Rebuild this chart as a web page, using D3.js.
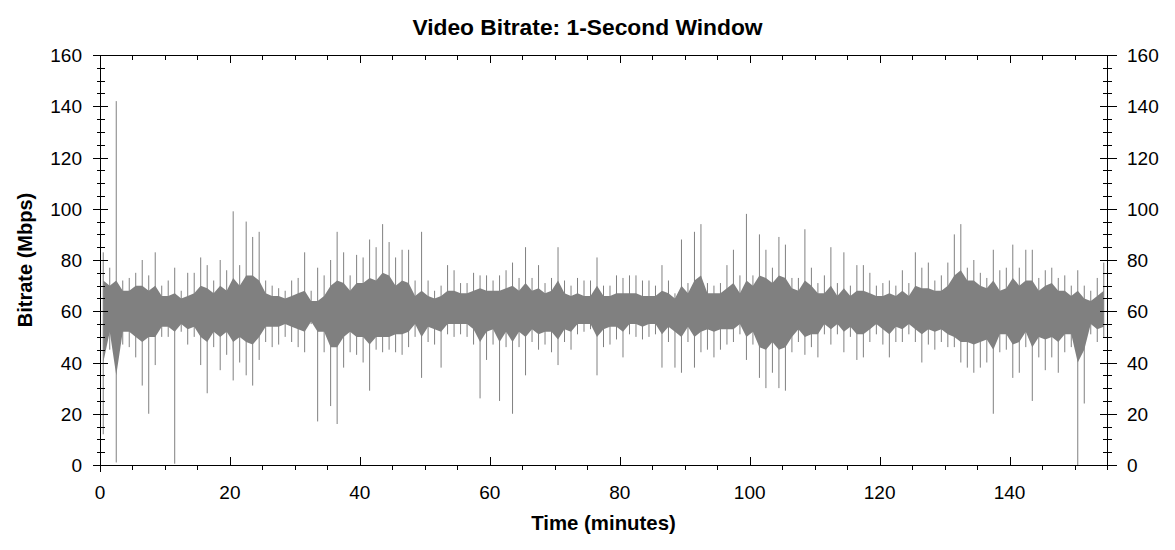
<!DOCTYPE html>
<html><head><meta charset="utf-8">
<script src="https://cdn.jsdelivr.net/npm/d3@7/dist/d3.min.js"></script>
<style>body{margin:0;background:#fff}svg{display:block}</style>
</head><body><svg id="c" width="1175" height="550"></svg>
<script>
// Per-minute extreme values (max / min of the 1-second bitrate within each minute), Mbps
const minuteHi = [
 83,77,142,72,73,75,80,74,83,70,
 72,77,68,75,75,81,78,72,80,76,
 99,78,95,89,91,72,70,69,68,72,
 73,83,68,77,74,80,91,83,74,82,
 81,88,85,94,87,81,84,84,72,91,
 72,68,70,78,76,71,71,75,74,74,
 72,74,76,79,73,85,73,78,71,73,
 85,72,70,73,72,72,81,70,70,74,
 73,74,74,72,72,70,78,72,67,88,
 71,91,94,71,70,71,78,84,74,98,
 74,90,84,77,89,86,73,73,92,77,
 71,74,85,71,83,70,78,78,75,70,
 71,72,70,76,71,83,77,79,72,74,
 79,90,94,77,80,75,73,84,76,77,
 86,77,84,84,73,76,77,73,74,70,
 76,70,68,73,79];
const minuteLo = [
 12,45,1,47,46,42,31,20,39,50,
 50,0.5,52,47,50,39,28,46,37,43,
 33,40,35,31,41,48,46,47,50,48,
 46,44,55,17,44,23,16,38,44,43,
 40,29,45,44,45,44,43,46,50,34,
 48,47,38,51,50,51,50,47,26,41,
 47,25,46,20,46,35,48,45,47,44,
 39,48,45,51,52,53,35,46,47,49,
 42,51,50,49,50,51,38,48,38,36,
 48,38,44,45,42,45,47,48,51,41,
 47,34,30,36,30,29,44,48,43,46,
 42,51,47,51,44,50,41,42,48,51,
 47,42,48,48,51,48,40,47,45,48,
 46,46,40,38,36,38,40,20,44,45,
 34,36,46,25,42,37,42,36,44,46,
 0,24,51,48,50];
// Per-minute dense band of the trace (where most 1-second samples fall), Mbps
const innerHi = [
 72,70,72,68,68,70,70,68,70,66,
 66,67,65,66,67,70,69,67,70,68,
 73,70,74,74,72,67,66,66,65,66,
 67,68,64,64,66,70,72,71,68,71,
 71,73,72,75,74,70,72,71,66,68,
 66,65,66,68,68,67,67,68,69,68,
 68,68,69,70,68,71,68,69,67,68,
 72,67,66,67,66,66,70,66,66,67,
 67,67,67,66,66,66,68,67,65,70,
 67,72,74,67,67,67,69,71,67,72,
 70,74,73,71,74,73,69,68,72,70,
 67,67,70,66,69,66,68,68,67,66,
 66,67,66,68,66,70,69,69,68,68,
 70,74,76,72,72,70,69,72,68,69,
 73,70,72,72,68,70,71,68,68,66,
 68,65,64,66,68];
const innerLo = [
 40,52,35,52,52,50,48,50,50,54,
 54,52,55,53,54,50,48,52,50,52,
 48,50,48,47,50,54,54,54,55,54,
 53,52,56,52,52,46,46,50,52,50,
 50,47,50,50,50,51,51,52,55,50,
 54,53,52,55,55,55,55,53,48,52,
 53,48,52,48,52,50,53,51,52,52,
 49,53,52,55,55,55,50,53,54,54,
 52,55,55,54,55,55,51,54,52,50,
 54,50,52,53,52,53,53,53,55,50,
 52,46,45,48,45,46,50,53,50,51,
 51,55,53,55,52,54,51,51,53,55,
 53,51,54,53,55,53,51,53,52,53,
 51,50,48,48,47,48,49,45,51,51,
 47,48,52,46,50,49,50,48,51,51,
 40,45,55,53,54];
// Axis ticks
const xMajor = [0,20,40,60,80,100,120,140];
const yMajor = [0,20,40,60,80,100,120,140,160];
const xMinor = [5,10,15,25,30,35,45,50,55,65,70,75,85,90,95,105,110,115,125,130,135,145,150,155];
const yMinor = [5,10,15,25,30,35,45,50,55,65,70,75,85,90,95,105,110,115,125,130,135,145,150,155];

const svg = d3.select('#c');
const FONT = '"Liberation Sans", Arial, Helvetica, sans-serif';
const L = 100, R = 1107, T = 55, B = 465;
const x = d3.scaleLinear().domain([0,155]).range([L,R]);
const y = d3.scaleLinear().domain([0,160]).range([B,T]);
const GRAY = '#808080';

const mins = minuteHi.map((h,i)=>({t:i+0.5, hi:h, lo:minuteLo[i], ih:innerHi[i], il:innerLo[i]}));

// dense band
svg.append('path').datum(mins)
  .attr('d', d3.area().x(d=>x(d.t)).y0(d=>y(d.il)).y1(d=>y(d.ih)))
  .attr('fill', GRAY);

// per-minute extremes
svg.append('g').selectAll('line').data(mins).join('line')
  .attr('x1', d=>x(d.t)).attr('x2', d=>x(d.t))
  .attr('y1', d=>y(d.lo)).attr('y2', d=>y(d.hi))
  .attr('stroke', GRAY).attr('stroke-width', 1);

// axes frame
const ax = svg.append('g').attr('stroke','#000').attr('stroke-width',1).attr('shape-rendering','crispEdges');
const px = v => Math.round(v)+0.5;
ax.append('line').attr('x1',93).attr('x2',1113).attr('y1',px(B)).attr('y2',px(B));
ax.append('line').attr('x1',93).attr('x2',1113).attr('y1',px(T)).attr('y2',px(T));
ax.append('line').attr('x1',px(L)).attr('x2',px(L)).attr('y1',T).attr('y2',B+7);
ax.append('line').attr('x1',px(R)).attr('x2',px(R)).attr('y1',T).attr('y2',B);

xMajor.forEach(v=>{
  ax.append('line').attr('x1',px(x(v))).attr('x2',px(x(v))).attr('y1',B-8).attr('y2',B);
  ax.append('line').attr('x1',px(x(v))).attr('x2',px(x(v))).attr('y1',T).attr('y2',T+8);
});
xMinor.forEach(v=>{
  ax.append('line').attr('x1',px(x(v))).attr('x2',px(x(v))).attr('y1',B).attr('y2',B+5);
  ax.append('line').attr('x1',px(x(v))).attr('x2',px(x(v))).attr('y1',T).attr('y2',T+5);
});
yMajor.forEach(v=>{
  ax.append('line').attr('x1',L-7).attr('x2',L+8).attr('y1',px(y(v))).attr('y2',px(y(v)));
  ax.append('line').attr('x1',R-7).attr('x2',R+10).attr('y1',px(y(v))).attr('y2',px(y(v)));
});
yMinor.forEach(v=>{
  ax.append('line').attr('x1',L-3).attr('x2',L+5).attr('y1',px(y(v))).attr('y2',px(y(v)));
  ax.append('line').attr('x1',R-4).attr('x2',R+5).attr('y1',px(y(v))).attr('y2',px(y(v)));
});

// tick labels
const lab = svg.append('g').attr('font-family',FONT).attr('font-size',19).attr('fill','#000');
xMajor.forEach(v=>{
  lab.append('text').attr('x',x(v)).attr('y',499).attr('text-anchor','middle').text(v);
});
yMajor.forEach(v=>{
  lab.append('text').attr('x',82).attr('y',y(v)+7).attr('text-anchor','end').text(v);
  lab.append('text').attr('x',1127).attr('y',y(v)+7).attr('text-anchor','start').text(v);
});

// titles
svg.append('text').attr('x',587.5).attr('y',35).attr('text-anchor','middle')
  .attr('font-family',FONT).attr('font-weight','bold').attr('font-size',22.8).text('Video Bitrate: 1-Second Window');
svg.append('text').attr('x',(L+R)/2).attr('y',530).attr('text-anchor','middle')
  .attr('font-family',FONT).attr('font-weight','bold').attr('font-size',20.4).text('Time (minutes)');
svg.append('text').attr('transform',`translate(32,${(T+B)/2}) rotate(-90)`).attr('text-anchor','middle')
  .attr('font-family',FONT).attr('font-weight','bold').attr('font-size',20).text('Bitrate (Mbps)');
</script></body></html>
